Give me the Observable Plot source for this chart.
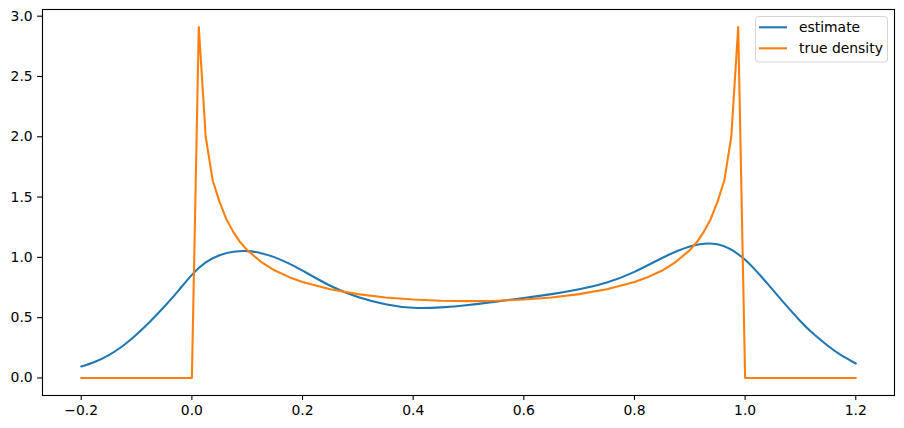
<!DOCTYPE html>
<html>
<head>
<meta charset="utf-8">
<script src="https://cdn.jsdelivr.net/npm/d3@7"></script>
<script src="https://cdn.jsdelivr.net/npm/@observablehq/plot@0.6"></script>
<style>
  html, body { margin: 0; padding: 0; background: #fff; }
  #chart svg { display: block; }
</style>
</head>
<body>
<div id="chart"></div>
<script>
// estimate (blue)
const estX = [-0.2,-0.175,-0.15,-0.125,-0.1,-0.075,-0.05,-0.025,0.0,0.025,0.05,0.075,0.1,0.125,0.15,0.175,0.2,0.25,0.3,0.35,0.4,0.45,0.5,0.55,0.6,0.65,0.7,0.75,0.8,0.85,0.9,0.95,1.0,1.05,1.1,1.125,1.15,1.175,1.2];
const estY = [0.095,0.135,0.19,0.265,0.36,0.47,0.59,0.72,0.855,0.958,1.018,1.046,1.052,1.035,1.0,0.95,0.89,0.765,0.672,0.612,0.582,0.585,0.605,0.633,0.663,0.695,0.735,0.792,0.88,0.995,1.09,1.108,0.98,0.73,0.47,0.36,0.265,0.185,0.12];
// true density (orange)
const trueX = [-0.2,0.0,0.0125,0.025,0.0375,0.05,0.0625,0.075,0.0875,0.1,0.125,0.15,0.175,0.2,0.25,0.3,0.35,0.4,0.45,0.5,0.55,0.6,0.65,0.7,0.75,0.8,0.825,0.85,0.875,0.9,0.9125,0.925,0.9375,0.95,0.9625,0.975,0.9875,1.0,1.2];
const trueY = [0,0,2.91,2.0,1.64,1.46,1.315,1.21,1.125,1.06,0.963,0.891,0.838,0.796,0.735,0.695,0.667,0.65,0.64,0.637,0.64,0.65,0.667,0.695,0.735,0.796,0.838,0.891,0.963,1.06,1.125,1.21,1.315,1.46,1.64,2.0,2.91,0,0];
// ticks
const xTicks = [-0.2,0.0,0.2,0.4,0.6,0.8,1.0,1.2];
const yTicks = [0.0,0.5,1.0,1.5,2.0,2.5,3.0];
const seriesNames = ["estimate","true density"];
const seriesColors = ["#1f77b4","#ff7f0e"];

const est = estX.map((x,i) => ({x, y: estY[i]}));
const tru = trueX.map((x,i) => ({x, y: trueY[i]}));
const fmt = d3.format(".1f");

const plot = Plot.plot({
  width: 904,
  height: 428,
  marginLeft: 42,
  marginRight: 10,
  marginTop: 9,
  marginBottom: 33,
  style: {fontFamily: "DejaVu Sans", fontSize: "13.9px", color: "#000", background: "#fff"},
  x: {domain: [-0.27, 1.27]},
  y: {domain: [-0.1455, 3.0555]},
  marks: [
    Plot.line(est, {x: "x", y: "y", stroke: seriesColors[0], strokeWidth: 2.08, curve: "natural"}),
    Plot.line(tru, {x: "x", y: "y", stroke: seriesColors[1], strokeWidth: 2.08}),
    Plot.axisX({ticks: xTicks, tickFormat: fmt, tickSize: 4.9, tickPadding: 4.9, label: null, stroke: "#000", strokeWidth: 1.1, fill: "#000"}),
    Plot.axisY({ticks: yTicks, tickFormat: fmt, tickSize: 4.9, tickPadding: 4.9, label: null, stroke: "#000", strokeWidth: 1.1, fill: "#000"}),
    Plot.frame({stroke: "#000", strokeWidth: 1.1})
  ]
});
document.getElementById("chart").appendChild(plot);

// legend (upper right, matplotlib style)
const svg = d3.select(plot);
const lg = svg.append("g").attr("font-family", "DejaVu Sans").attr("font-size", "13.9px").attr("text-anchor", "start");
lg.append("rect")
  .attr("x", 755.5).attr("y", 16.5).attr("width", 132).attr("height", 45.5)
  .attr("rx", 3).attr("fill", "#fff").attr("fill-opacity", 0.8)
  .attr("stroke", "#d5d5d5").attr("stroke-width", 1);
seriesNames.forEach((name, i) => {
  const yy = 27.3 + i * 21;
  lg.append("line").attr("x1", 759).attr("x2", 787).attr("y1", yy).attr("y2", yy)
    .attr("stroke", seriesColors[i]).attr("stroke-width", 2.08);
  lg.append("text").attr("x", 799).attr("y", yy).attr("dy", "0.35em")
    .attr("text-anchor", "start").attr("fill", "#000").text(name);
});
</script>
</body>
</html>
